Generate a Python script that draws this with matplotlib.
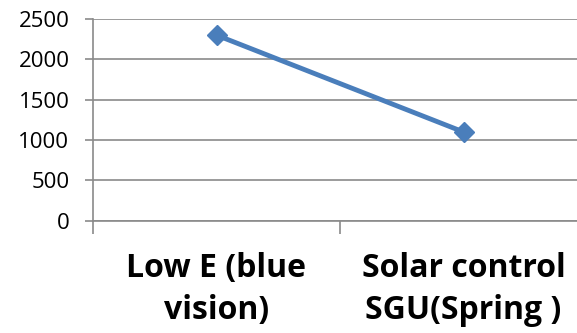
import matplotlib
matplotlib.use("Agg")
import matplotlib.pyplot as plt

categories = ["Low E (blue\nvision)", "Solar control\nSGU(Spring )"]
values = [2300, 1100]
yticks = [0, 500, 1000, 1500, 2000, 2500]

plt.rcParams["font.family"] = ["Open Sans", "DejaVu Sans"]

W, H = 577, 333
fig = plt.figure(figsize=(W / 100, H / 100), dpi=100)
# plot area in pixel coordinates
left, right, top, bottom = 93, 587, 19, 220.7
ax = fig.add_axes([left / W, 1 - bottom / H, (right - left) / W, (bottom - top) / H])

x = [0.5, 1.5]
ax.plot(x, values, color="#4A7EBB", lw=3.5, marker="D", markersize=10.2,
        solid_capstyle="round", zorder=3, clip_on=False)

ax.set_xlim(0, 2)
ax.set_ylim(0, 2500)
ax.set_yticks(yticks)
ax.set_yticklabels([str(v) for v in yticks], fontsize=16, color="black")
ax.yaxis.grid(True, color="#8A8A8A", lw=1.2)
ax.set_axisbelow(True)

ax.set_xticks([0, 1, 2])
ax.set_xticklabels([])
ax.set_xticks(x, minor=True)
ax.set_xticklabels(categories, minor=True, fontsize=23, fontweight="bold",
                   linespacing=1.375, color="black")
ax.tick_params(axis="x", which="minor", length=0, pad=22.5)
ax.tick_params(axis="x", which="major", length=9, color="#8A8A8A", width=1.2)
ax.tick_params(axis="y", length=6, color="#8A8A8A", width=1.2, pad=11)

for s in ["top", "right"]:
    ax.spines[s].set_visible(False)
for s in ["left", "bottom"]:
    ax.spines[s].set_color("#8A8A8A")
    ax.spines[s].set_linewidth(1.2)

fig.savefig("out.png", dpi=100)
